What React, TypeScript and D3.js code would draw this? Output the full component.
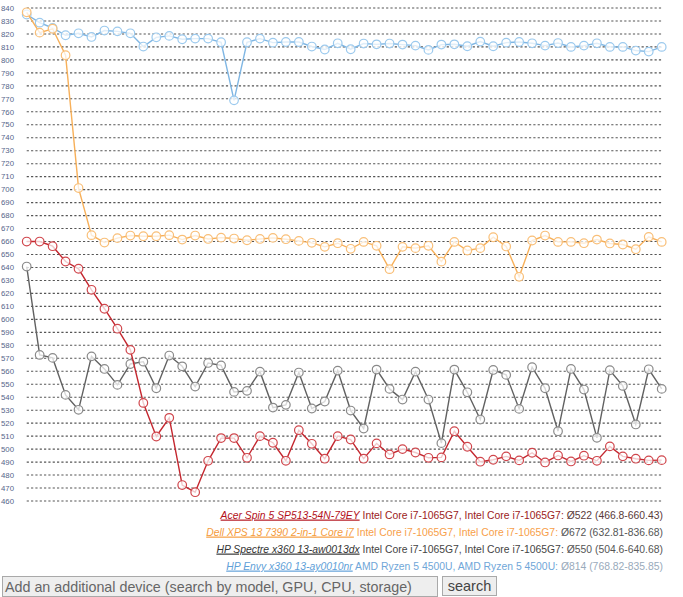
import React from "react";
import * as d3 from "d3";

const yTicks = d3.range(460, 841, 10);

const acer = [660, 660, 656.4, 644.6, 639, 622.8, 608.2, 592.8, 576.5, 535.6, 509.7, 524.1, 472.3, 466.8, 491, 508.5, 508.5, 493.3, 510, 504.9, 491, 514.6, 504.1, 492.6, 510, 507.4, 492.6, 504.4, 495.9, 500, 497.4, 493.3, 493.6, 513.8, 501.8, 490.3, 491.8, 494.4, 491.3, 497.2, 489.7, 495.1, 490.5, 494.9, 491, 502.1, 494.4, 492.6, 491.3, 491.5];
const dell = [836.7, 821, 824, 803.6, 701.2, 664.9, 659.2, 662.6, 664.6, 664.1, 664.1, 664.9, 661.5, 664.6, 662, 663, 662.3, 661, 662, 662.8, 661.8, 660.5, 659, 655.9, 658.7, 654.4, 659.7, 656.7, 638.7, 655.9, 654.9, 656.7, 644.5, 659.7, 653.1, 654.9, 663.3, 656.2, 632.8, 660.8, 664.6, 659.7, 659.7, 658.7, 661.5, 658.5, 657.7, 654.1, 663.6, 659.7];
const spectre = [640.7, 572.6, 570.3, 541.8, 530.3, 571.5, 561.8, 549.5, 565.6, 567.4, 546.9, 572.1, 563.8, 548.2, 566.4, 564.5, 544.1, 544.9, 559.7, 532, 534.1, 559, 531.3, 536.7, 560.5, 529.7, 515.9, 561.3, 546.4, 538.2, 559.7, 538.2, 504.6, 561.3, 543.8, 522.8, 561, 557.2, 531, 563.1, 546.9, 513.8, 561.8, 545.9, 508.7, 560.8, 548.7, 519, 561.5, 546.4];
const envy = [835, 828.7, 824.6, 819, 820.5, 817.7, 822.6, 822, 820.5, 810.3, 817.4, 818.5, 815.9, 816.4, 816.4, 813.6, 768.8, 813.6, 816.4, 813.3, 813.8, 813.8, 810.3, 808, 812.8, 808.2, 812.6, 812, 812.6, 811.8, 811, 807.7, 811.8, 812, 810.5, 814.1, 810.5, 813.3, 813.8, 812.8, 811, 813, 810, 811, 812.8, 810, 810, 807.2, 806.4, 810];

const seriesNames = ["Acer Spin 5 SP513-54N-79EY", "Dell XPS 13 7390 2-in-1 Core i7", "HP Spectre x360 13-aw0013dx", "HP Envy x360 13-ay0010nr"];
const seriesCpus = ["Intel Core i7-1065G7, Intel Core i7-1065G7:", "Intel Core i7-1065G7, Intel Core i7-1065G7:", "Intel Core i7-1065G7, Intel Core i7-1065G7:", "AMD Ryzen 5 4500U, AMD Ryzen 5 4500U:"];
const seriesStats = ["Ø522 (466.8-660.43)", "Ø672 (632.81-836.68)", "Ø550 (504.6-640.68)", "Ø814 (768.82-835.85)"];

const lineColors = ["#c4272f", "#f7b05a", "#616161", "#7fb6e3"];
const markerColors = ["#d0464c", "#f9bf78", "#8a8a8a", "#9ccaee"];
const nameColors = ["#b3101a", "#f59b3c", "#333333", "#5f9fd8"];
const cpuColors = ["#9c1c22", "#f7a04a", "#444444", "#6fa6d8"];
const statColors = ["#5a3a3a", "#555555", "#555555", "#9ab"];

const W = 683;
const H = 597;

export default function App() {
  const y = d3.scaleLinear().domain([460, 840]).range([501, 8]);
  const x = d3.scaleLinear().domain([0, 49]).range([26.7, 661.7]);
  const line = d3
    .line<number>()
    .x((_, i) => x(i))
    .y((d) => y(d));
  const allSeries = [envy, dell, spectre, acer];
  const idx = [3, 1, 2, 0];
  const font = "'Liberation Sans', Arial, sans-serif";
  return (
    <svg
      width={W}
      height={H}
      style={{ position: "absolute", left: 0, top: 0, background: "#fff" }}
    >
      {yTicks.map((t) => (
        <g key={t}>
          <line
            x1={26.7}
            x2={663}
            y1={y(t)}
            y2={y(t)}
            stroke="#555"
            strokeWidth={1.1}
            strokeDasharray="2.2,2.13"
          />
          <text
            x={1}
            y={y(t)}
            dy="0.35em"
            fontSize={7.8}
            fill="#56658a"
            fontFamily={font}
          >
            {t}
          </text>
        </g>
      ))}
      {allSeries.map((s, k) => {
        const c = idx[k];
        return (
          <g key={c}>
            <path d={line(s) || ""} fill="none" stroke={lineColors[c]} strokeWidth={1.4} />
            {s.map((v, i) => (
              <circle
                key={i}
                cx={x(i)}
                cy={y(v)}
                r={4.3}
                fill="#fff"
                fillOpacity={0.75}
                stroke={markerColors[c]}
                strokeWidth={1.2}
              />
            ))}
          </g>
        );
      })}
      {seriesNames.map((n, i) => (
        <g key={n} transform={`translate(663,${518.5 + i * 17}) scale(0.895,1)`}>
          <text x={0} y={0} textAnchor="end" fontSize={11.6} fontFamily={font}>
            <tspan fill={nameColors[i]} fontStyle="italic" style={{ textDecoration: "underline" }}>
              {n}
            </tspan>
            <tspan fill={cpuColors[i]}> {seriesCpus[i]}</tspan>
            <tspan fill={statColors[i]}> {seriesStats[i]}</tspan>
          </text>
        </g>
      ))}
      <rect x={2.5} y={576.5} width={435} height={20} fill="#eeeeee" stroke="#a9a9a9" />
      <text x={5} y={591.5} fontSize={14.3} fill="#666" fontFamily={font}>
        Add an additional device (search by model, GPU, CPU, storage)
      </text>
      <rect x={442.5} y={576.5} width={54} height={19} fill="#eeeeee" stroke="#a9a9a9" />
      <text x={469.5} y={591} fontSize={14.5} fill="#444" textAnchor="middle" fontFamily={font}>
        search
      </text>
    </svg>
  );
}
